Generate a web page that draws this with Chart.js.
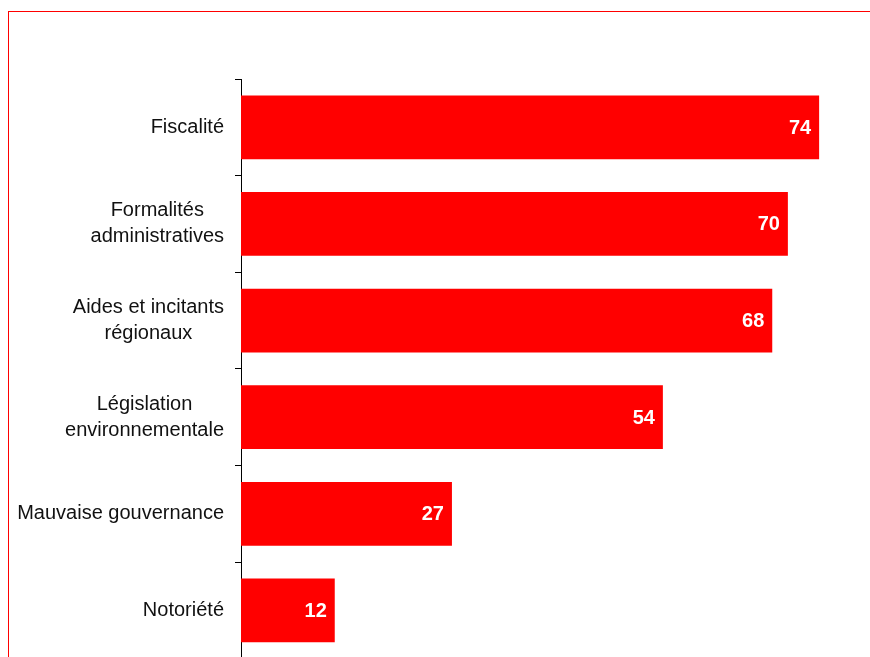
<!DOCTYPE html>
<html>
<head>
<meta charset="utf-8">
<script src="https://cdn.jsdelivr.net/npm/chart.js@4.4.1/dist/chart.umd.min.js"></script>
<style>
    html, body { margin: 0; padding: 0; background: #fff; overflow: hidden; }
    #frame { position: absolute; left: 8px; top: 11px; width: 900px; height: 700px; border: 1px solid #ff0000; }
    #wrap { position: absolute; left: 0; top: 0; width: 870px; height: 666px; }
</style>
</head>
<body>
<div id="frame"></div>
<div id="wrap"><canvas id="barChart"></canvas></div>
<script>
const categories = [
    ['Fiscalité'],
    ['Formalités', 'administratives'],
    ['Aides et incitants', 'régionaux'],
    ['Législation', 'environnementale'],
    ['Mauvaise gouvernance'],
    ['Notoriété']
];
const values = [74, 70, 68, 54, 27, 12];

const labelFont = '20px "Liberation Sans", Arial, sans-serif';
const valueFont = 'bold 20px "Liberation Sans", Arial, sans-serif';

// category labels: block right aligned, lines centered inside the block
const categoryLabels = {
    id: 'categoryLabels',
    afterDraw(chart) {
        const ctx = chart.ctx;
        const yScale = chart.scales.y;
        const rightEdge = yScale.right - 17;
        ctx.save();
        ctx.font = labelFont;
        ctx.fillStyle = '#111';
        ctx.textBaseline = 'middle';
        ctx.textAlign = 'center';
        categories.forEach((lines, i) => {
            const widest = Math.max(...lines.map(l => ctx.measureText(l).width));
            const cx = rightEdge - widest / 2;
            const cy = yScale.getPixelForTick(i);
            const lineH = 26;
            lines.forEach((line, j) => {
                ctx.fillText(line, cx, cy + (j - (lines.length - 1) / 2) * lineH);
            });
        });
        ctx.restore();
    }
};

// white bold values at the end of each bar
const valueLabels = {
    id: 'valueLabels',
    afterDatasetsDraw(chart) {
        const ctx = chart.ctx;
        const meta = chart.getDatasetMeta(0);
        ctx.save();
        ctx.font = valueFont;
        ctx.fillStyle = '#fff';
        ctx.textAlign = 'right';
        ctx.textBaseline = 'middle';
        meta.data.forEach((bar, i) => {
            ctx.fillText(String(values[i]), bar.x - 8, bar.y + 1);
        });
        ctx.restore();
    }
};

new Chart(document.getElementById('barChart').getContext('2d'), {
    type: 'bar',
    data: {
        labels: categories.map(c => c.join(' ')),
        datasets: [{
            data: values,
            backgroundColor: '#ff0000',
            borderWidth: 0,
            categoryPercentage: 1,
            barPercentage: 0.66
        }]
    },
    options: {
        indexAxis: 'y',
        responsive: true,
        maintainAspectRatio: false,
        animation: false,
        layout: { padding: { top: 79, right: 4, bottom: 2, left: 0 } },
        plugins: { legend: { display: false }, tooltip: { enabled: false } },
        scales: {
            x: { display: false, min: 0, max: 80 },
            y: {
                afterFit: s => { s.width = 241; },
                border: { color: '#000', width: 1 },
                grid: { drawOnChartArea: false, tickLength: 6, color: '#000', offset: true },
                ticks: { color: 'rgba(0,0,0,0)', padding: 0 }
            }
        }
    },
    plugins: [categoryLabels, valueLabels]
});
</script>
</body>
</html>
